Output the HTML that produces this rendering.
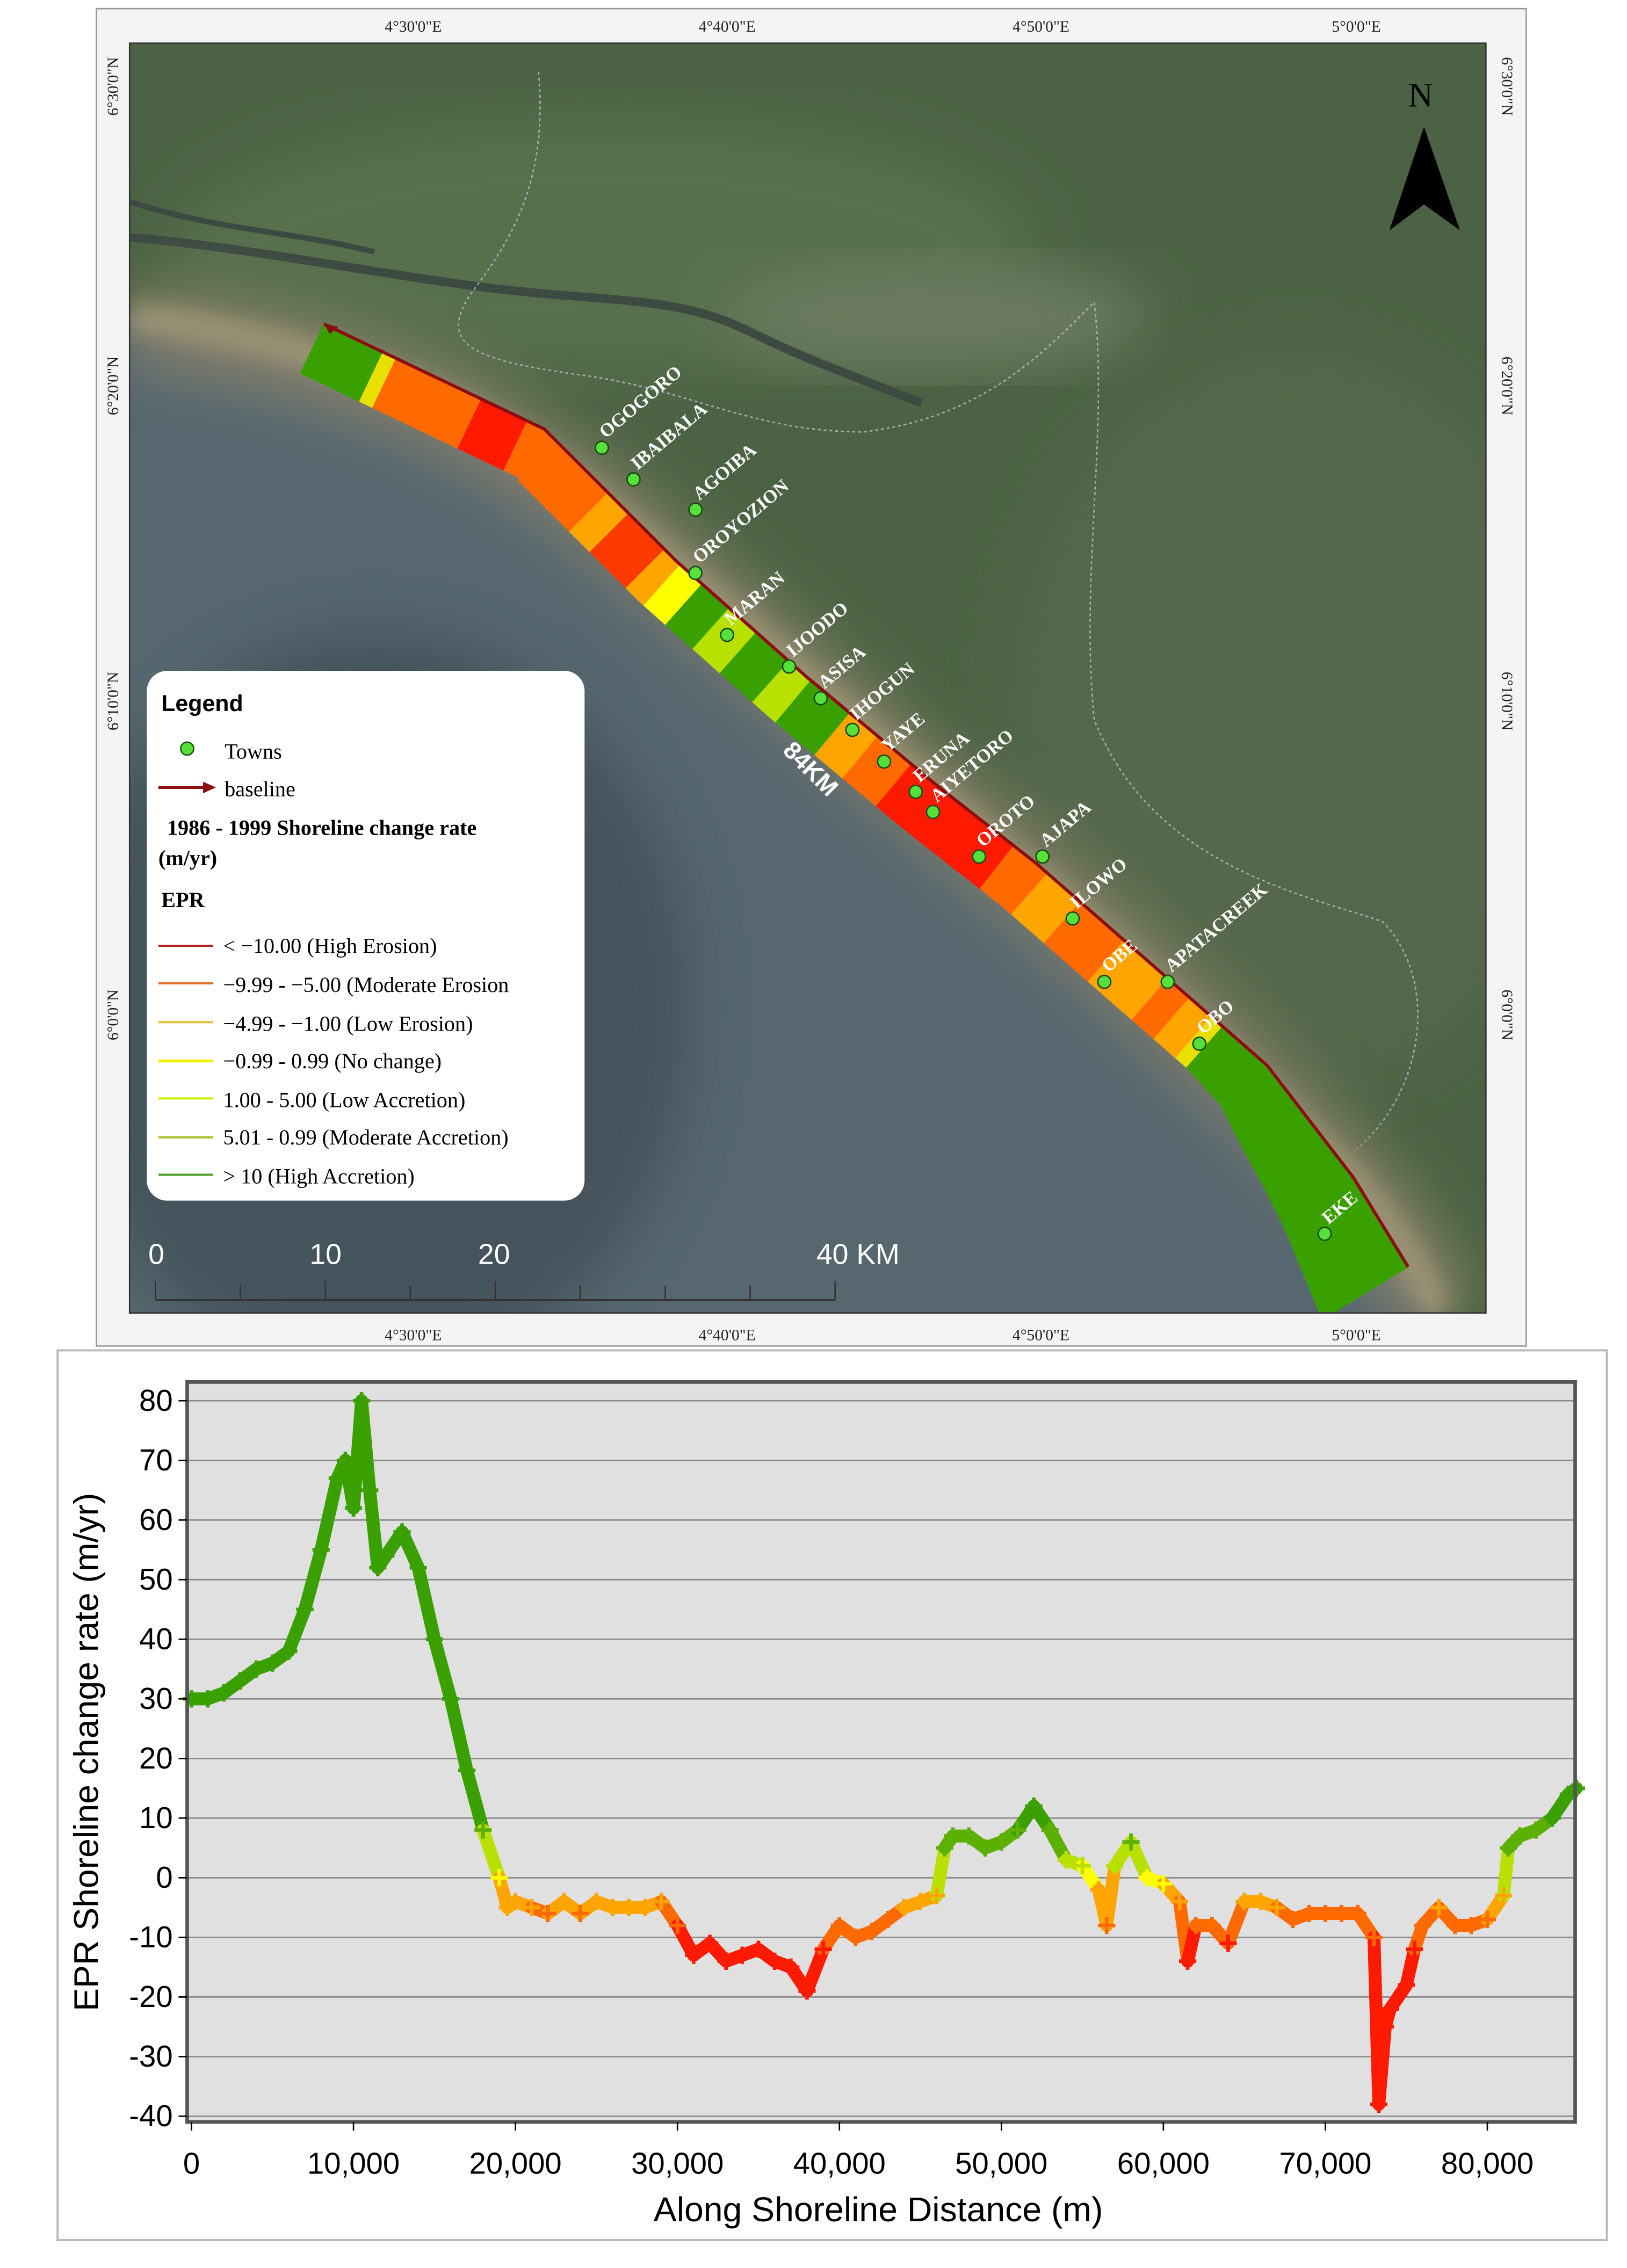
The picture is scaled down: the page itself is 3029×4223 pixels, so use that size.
<!DOCTYPE html>
<html><head><meta charset="utf-8">
<style>
html,body{margin:0;padding:0;background:#fff;}
svg{display:block;}
.serif{font-family:"Liberation Serif",serif;}
.sans{font-family:"Liberation Sans",sans-serif;}
</style></head>
<body>
<svg id="root" width="3029" height="4223" viewBox="0 0 1130 1575.4" xmlns="http://www.w3.org/2000/svg">
<defs>
<filter id="blur8"><feGaussianBlur stdDeviation="8"/></filter>
<filter id="blur20"><feGaussianBlur stdDeviation="20"/></filter>
<clipPath id="mapclip"><rect x="90" y="30" width="942" height="882"/></clipPath>
</defs>
<g>
<rect x="67" y="6" width="993" height="929" fill="#f4f4f4" stroke="#999" stroke-width="1"/>
<g clip-path="url(#mapclip)">
<rect x="90" y="30" width="942" height="882" fill="#4b6344"/>
<ellipse cx="420" cy="170" rx="300" ry="90" fill="#56704d" filter="url(#blur20)"/>
<ellipse cx="900" cy="500" rx="200" ry="260" fill="#55684b" filter="url(#blur20)"/>
<ellipse cx="650" cy="220" rx="150" ry="40" fill="#6a7a5e" filter="url(#blur20)"/>
<path d="M90,165 C160,170 260,190 340,200 C420,210 470,205 520,230 C560,250 590,260 640,280" stroke="#3d4a42" stroke-width="6" fill="none"/>
<path d="M90,140 C150,160 200,160 260,175" stroke="#3d4a42" stroke-width="4" fill="none"/>
<path d="M374,50 C380,120 360,160 330,200 C300,240 330,250 400,260 C480,270 520,300 600,300 C680,290 720,250 760,210 C770,300 750,400 760,500 C800,600 900,620 960,640 C1000,680 990,760 940,800" stroke="#ccd" stroke-width="1" stroke-dasharray="2,2" fill="none" opacity="0.7"/>
<path d="M90,220 C160,228 240,250 300,275 C380,310 440,370 500,420 C560,470 640,545 720,610 C800,680 880,760 940,820 C965,850 985,880 1000,912 L90,912 Z" fill="#56676f"/>
<path d="M90,225 C160,233 240,255 300,280 C380,315 440,375 500,425 C560,475 640,550 720,615 C800,685 880,765 940,825 C965,855 985,885 1000,917" stroke="#8a826a" stroke-width="60" fill="none" filter="url(#blur20)" opacity="0.85"/>
<path d="M90,220 C160,228 240,250 300,275 C380,310 440,370 500,420 C560,470 640,545 720,610 C800,680 880,760 940,820 C965,850 985,880 1000,912" stroke="#a09676" stroke-width="18" fill="none" filter="url(#blur8)"/>
<ellipse cx="260" cy="700" rx="220" ry="260" fill="#44525c" filter="url(#blur20)"/>
<g id="strip"></g>
<polyline id="baseline" points="225,225 378,298 470,390 560,470 650,545 720,600 800,670 880,740 940,818 978,880" fill="none" stroke="#8b0d0d" stroke-width="2.2"/>
<path d="M225,225 l10,2 l-6,5 z" fill="#8b0d0d"/>
<g id="towns"></g>
<text x="548" y="530" transform="rotate(45 555 520)" class="sans" font-size="17" font-weight="bold" fill="#fff">84KM</text>
<g>
<rect x="102" y="466" width="304" height="368" rx="14" fill="#fff"/>
<text x="112" y="494" class="sans" font-size="16" font-weight="bold">Legend</text>
<circle cx="130" cy="520" r="4.5" fill="#55e03a" stroke="#1a5a10" stroke-width="1"/>
<text x="156" y="527" class="serif" font-size="15">Towns</text>
<line x1="110" y1="547" x2="142" y2="547" stroke="#8b0d0d" stroke-width="2"/><path d="M141,543 l9,4 l-9,4z" fill="#8b0d0d"/>
<text x="156" y="553" class="serif" font-size="15">baseline</text>
<text x="116" y="580" class="serif" font-size="15" font-weight="bold">1986 - 1999 Shoreline change rate</text>
<text x="110" y="601" class="serif" font-size="15" font-weight="bold">(m/yr)</text>
<text x="112" y="630" class="serif" font-size="15" font-weight="bold">EPR</text>
<g class="serif" font-size="15">
<line x1="110" y1="657" x2="148" y2="657" stroke="#b22222" stroke-width="1.5"/><text x="155" y="662">&lt; −10.00 (High Erosion)</text>
<line x1="110" y1="683" x2="148" y2="683" stroke="#e07030" stroke-width="1.5"/><text x="155" y="689">−9.99 - −5.00 (Moderate Erosion</text>
<line x1="110" y1="710" x2="148" y2="710" stroke="#e0c030" stroke-width="1.5"/><text x="155" y="716">−4.99 - −1.00 (Low Erosion)</text>
<line x1="110" y1="737" x2="148" y2="737" stroke="#f0f000" stroke-width="2"/><text x="155" y="742">−0.99 - 0.99 (No change)</text>
<line x1="110" y1="763" x2="148" y2="763" stroke="#d0f000" stroke-width="1.5"/><text x="155" y="769">1.00 - 5.00 (Low Accretion)</text>
<line x1="110" y1="790" x2="148" y2="790" stroke="#a0c020" stroke-width="1.5"/><text x="155" y="795">5.01 - 0.99 (Moderate Accretion)</text>
<line x1="110" y1="816" x2="148" y2="816" stroke="#50a030" stroke-width="1.5"/><text x="155" y="822">&gt; 10 (High Accretion)</text>
</g></g>
<g class="sans" font-size="20" fill="#fff">
<text x="103" y="878">0</text><text x="215" y="878">10</text><text x="332" y="878">20</text><text x="567" y="878">40 KM</text>
<line x1="108" y1="903" x2="580" y2="903" stroke="#333" stroke-width="1.2"/>
<line x1="108" y1="890" x2="108" y2="903" stroke="#333"/><line x1="167" y1="893" x2="167" y2="903" stroke="#333"/><line x1="226" y1="890" x2="226" y2="903" stroke="#333"/><line x1="285" y1="893" x2="285" y2="903" stroke="#333"/><line x1="344" y1="890" x2="344" y2="903" stroke="#333"/><line x1="403" y1="893" x2="403" y2="903" stroke="#333"/><line x1="462" y1="893" x2="462" y2="903" stroke="#333"/><line x1="521" y1="893" x2="521" y2="903" stroke="#333"/><line x1="580" y1="890" x2="580" y2="903" stroke="#333"/>
</g>
<g>
<text x="978" y="74" class="serif" font-size="24">N</text>
<path d="M989,88 L965,160 L989,142 L1014,160 Z" fill="#000"/>
</g>
</g>
<rect x="90" y="30" width="942" height="882" fill="none" stroke="#333" stroke-width="1"/>
<g class="serif" font-size="11" fill="#222">
<text x="287" y="22" text-anchor="middle">4°30'0"E</text><text x="505" y="22" text-anchor="middle">4°40'0"E</text><text x="723" y="22" text-anchor="middle">4°50'0"E</text><text x="942" y="22" text-anchor="middle">5°0'0"E</text>
<text x="287" y="931" text-anchor="middle">4°30'0"E</text><text x="505" y="931" text-anchor="middle">4°40'0"E</text><text x="723" y="931" text-anchor="middle">4°50'0"E</text><text x="942" y="931" text-anchor="middle">5°0'0"E</text>
<text transform="translate(82,60) rotate(-90)" text-anchor="middle">6°30'0"N</text><text transform="translate(82,268) rotate(-90)" text-anchor="middle">6°20'0"N</text><text transform="translate(82,487) rotate(-90)" text-anchor="middle">6°10'0"N</text><text transform="translate(82,705) rotate(-90)" text-anchor="middle">6°0'0"N</text>
<text transform="translate(1043,60) rotate(90)" text-anchor="middle">6°30'0"N</text><text transform="translate(1043,268) rotate(90)" text-anchor="middle">6°20'0"N</text><text transform="translate(1043,487) rotate(90)" text-anchor="middle">6°10'0"N</text><text transform="translate(1043,705) rotate(90)" text-anchor="middle">6°0'0"N</text>
</g>
</g>

<g>
<rect x="40" y="938" width="1076" height="618" fill="#fff" stroke="#bbb" stroke-width="1.5"/>
<rect x="130" y="960" width="964" height="514" fill="#e0e0e0"/>
<g id="grid"></g>
<g id="series"></g>
<rect x="130" y="960" width="964" height="514" fill="none" stroke="#555" stroke-width="2.5"/>
<g id="yticks" class="sans" font-size="21" fill="#000"></g>
<g id="xticks" class="sans" font-size="21" fill="#000"></g>
<text transform="translate(68,1217) rotate(-90)" text-anchor="middle" class="sans" font-size="24">EPR Shoreline change rate (m/yr)</text>
<text x="610" y="1543" text-anchor="middle" class="sans" font-size="24">Along Shoreline Distance (m)</text>
</g>
</svg>
<script>
const distances = [0,1000,2000,3000,4000,5000,6000,7000,8000,9000,9500,10000,10500,11000,11500,12000,13000,14000,15000,16000,17000,18000,19000,19500,20000,21000,22000,23000,24000,25000,26000,27000,28000,29000,30000,31000,32000,33000,34000,35000,36000,37000,38000,39000,40000,41000,42000,43000,44000,45000,46000,46500,47000,48000,49000,50000,51000,52000,53000,54000,55000,56000,56500,57000,58000,59000,60000,61000,61500,62000,63000,64000,65000,66000,67000,68000,69000,70000,71000,72000,73000,73300,73700,74000,75000,75500,76000,77000,78000,79000,80000,81000,81300,82000,83000,84000,85000,85500];
const eprValues = [30,30,31,33,35,36,38,45,55,67,70,62,80,65,52,54,58,52,40,30,18,8,0,-5,-4,-5,-6,-4,-6,-4,-5,-5,-5,-4,-8,-13,-11,-14,-13,-12,-14,-15,-19,-12,-8,-10,-9,-7,-5,-4,-3,5,7,7,5,6,8,12,8,3,2,-2,-8,2,6,0,-1,-4,-14,-8,-8,-11,-4,-4,-5,-7,-6,-6,-6,-6,-10,-38,-25,-22,-18,-12,-8,-5,-8,-8,-7,-3,5,7,8,10,14,15];
const yTickLabels = [80,70,60,50,40,30,20,10,0,-10,-20,-30,-40];
const xTickLabels = [0,10000,20000,30000,40000,50000,60000,70000,80000];

const NS='http://www.w3.org/2000/svg';
function xs(v){return 133+v/80000*(1033-133);}
function ys(v){return 973+(80-v)*(1470-973)/120;}
function col(v){if(v<-10)return '#ff1a00';if(v<-5)return '#ff6a00';if(v<-1)return '#ffa500';if(v<1)return '#ffff00';if(v<5)return '#b8e000';if(v<10)return '#5cb000';return '#3aa000';}
function mk(t,a,p){const e=document.createElementNS(NS,t);for(const k in a)e.setAttribute(k,a[k]);p.appendChild(e);return e;}

const grid=document.getElementById('grid'), yt=document.getElementById('yticks'), xt=document.getElementById('xticks');
yTickLabels.forEach(v=>{
  const l=mk('line',{x1:130,x2:1094,y1:ys(v),y2:ys(v),stroke:'#8a8a8a','stroke-width':1},grid);
  
  
  mk('line',{x1:124,x2:130,y1:ys(v),y2:ys(v),stroke:'#000'},yt);
  const t=mk('text',{x:120,y:ys(v)+7,'text-anchor':'end'},yt);t.textContent=v;
  
  
});
xTickLabels.forEach(v=>{
  mk('line',{x1:xs(v),x2:xs(v),y1:1474,y2:1480,stroke:'#000'},xt);
  const t=mk('text',{x:xs(v),y:1510,'text-anchor':'middle'},xt);t.textContent=v.toLocaleString('en-US');
  
  
});
const ser=document.getElementById('series');
for(let i=0;i<distances.length-1;i++){
  const m=(eprValues[i]+eprValues[i+1])/2;
  const s=mk('line',{x1:xs(distances[i]),y1:ys(eprValues[i]),x2:xs(distances[i+1]),y2:ys(eprValues[i+1]),stroke:col(m),'stroke-width':9,'stroke-linecap':'round'},ser);
  
  
}
for(let i=0;i<distances.length;i++){
  const x=xs(distances[i]),y=ys(eprValues[i]);
  const p=mk('path',{d:`M${x-6},${y}h12M${x},${y-6}v12`,stroke:col(eprValues[i]),'stroke-width':2.5},ser);
  
  
}

const base=[[225,225],[378,298],[470,390],[560,470],[650,545],[720,600],[800,670],[880,740],[940,818],[978,880]];
const bands=[[0,'#3aa000'],[0.045,'#e8e000'],[0.055,'#ff6a00'],[0.12,'#ff1a00'],[0.155,'#ff6a00'],[0.23,'#ffa500'],[0.25,'#ff3a00'],[0.285,'#ffa500'],[0.3,'#ffff00'],[0.32,'#3aa000'],[0.345,'#b8e000'],[0.37,'#3aa000'],[0.4,'#b8e000'],[0.42,'#3aa000'],[0.455,'#ffa500'],[0.48,'#ff6a00'],[0.51,'#ff1a00'],[0.6,'#ff6a00'],[0.63,'#ffa500'],[0.66,'#ff6a00'],[0.7,'#ffa500'],[0.74,'#ff6a00'],[0.76,'#ffa500'],[0.78,'#e8e000'],[0.79,'#3aa000'],[1.01,'#000']];
let lens=[0];for(let i=1;i<base.length;i++){lens.push(lens[i-1]+Math.hypot(base[i][0]-base[i-1][0],base[i][1]-base[i-1][1]));}
const L=lens[lens.length-1];
function ptAt(t){const d=t*L;let i=1;while(i<lens.length-1&&lens[i]<d)i++;const f=(d-lens[i-1])/(lens[i]-lens[i-1]);const a=base[i-1],b=base[i];const dx=b[0]-a[0],dy=b[1]-a[1],n=Math.hypot(dx,dy);return [a[0]+dx*f,a[1]+dy*f,dy/n,-dx/n];}
function wAt(t){return t<0.8?38:38+(t-0.8)/0.2*32;}
const strip=document.getElementById('strip');
for(let b=0;b<bands.length-1;b++){
  const t0=bands[b][0],t1=Math.min(bands[b+1][0],1);const pts=[];const N=6;
  for(let k=0;k<=N;k++){const t=t0+(t1-t0)*k/N;const p=ptAt(t);pts.push([p[0],p[1]]);}
  for(let k=N;k>=0;k--){const t=t0+(t1-t0)*k/N;const p=ptAt(t);const w=wAt(t);pts.push([p[0]-p[2]*w,p[1]-p[3]*w]);}
  const poly=mk('polygon',{points:pts.map(p=>p.join(',')).join(' '),fill:bands[b][1],stroke:bands[b][1],'stroke-width':0.5},strip);
  
  
}
const towns=[['OGOGORO',418,311],['IBAIBALA',440,333],['AGOIBA',483,354],['OROYOZION',483,398],['MARAN',505,441],['IJOODO',548,463],['ASISA',570,485],['IHOGUN',592,507],['YAYE',614,529],['ERUNA',636,550],['AIYETORO',648,564],['OROTO',680,595],['AJAPA',724,595],['ILOWO',745,638],['OBE',767,682],['APATACREEK',811,682],['OBO',833,725],['EKE',920,857]];
const tg=document.getElementById('towns');
towns.forEach(t=>{
  const c=mk('circle',{cx:t[1],cy:t[2],r:4.5,fill:'#55e03a',stroke:'#1a4a10','stroke-width':1},tg);
  
  
  const tx=mk('text',{x:t[1]+6,y:t[2]-3,transform:`rotate(-40 ${t[1]} ${t[2]})`,'font-family':'"Liberation Serif",serif','font-size':13,'font-weight':'bold',fill:'#fff'},tg);
  tx.textContent=t[0];
  
  
});
</script>
</body></html>
